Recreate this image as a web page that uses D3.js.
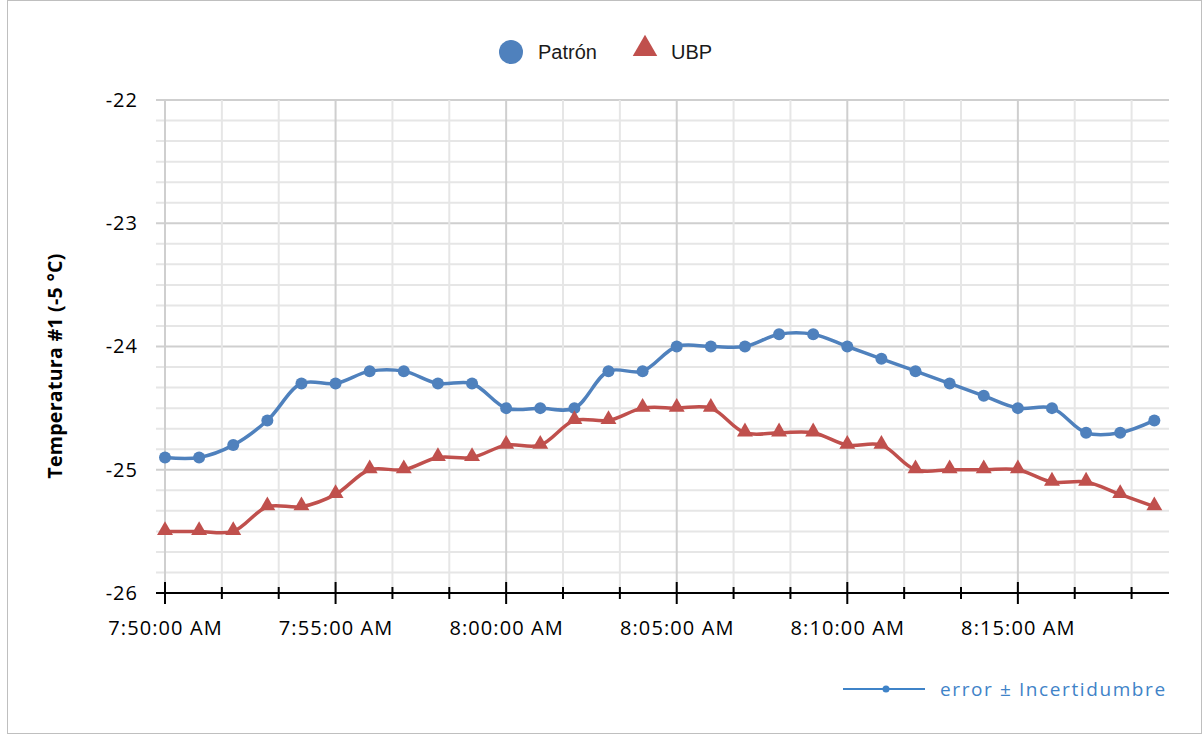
<!DOCTYPE html>
<html>
<head>
<meta charset="utf-8">
<script src="https://cdnjs.cloudflare.com/ajax/libs/d3/7.8.5/d3.min.js"></script>
<style>
  body { margin: 0; background: #fff; }
  svg { display: block; }
</style>
</head>
<body>
<svg id="vis"></svg>
<script>
const width = 1203;
const height = 736;

// minute readings, 7:50 .. 8:19
const times = ['7:50', '7:51', '7:52', '7:53', '7:54', '7:55', '7:56', '7:57', '7:58', '7:59',
               '8:00', '8:01', '8:02', '8:03', '8:04', '8:05', '8:06', '8:07', '8:08', '8:09',
               '8:10', '8:11', '8:12', '8:13', '8:14', '8:15', '8:16', '8:17', '8:18', '8:19'];
const patron = [-24.9, -24.9, -24.8, -24.6, -24.3, -24.3, -24.2, -24.2, -24.3, -24.3,
                -24.5, -24.5, -24.5, -24.2, -24.2, -24.0, -24.0, -24.0, -23.9, -23.9,
                -24.0, -24.1, -24.2, -24.3, -24.4, -24.5, -24.5, -24.7, -24.7, -24.6];
const ubp = [-25.5, -25.5, -25.5, -25.3, -25.3, -25.2, -25.0, -25.0, -24.9, -24.9,
             -24.8, -24.8, -24.6, -24.6, -24.5, -24.5, -24.5, -24.7, -24.7, -24.7,
             -24.8, -24.8, -25.0, -25.0, -25.0, -25.0, -25.1, -25.1, -25.2, -25.3];
const xTickLabels = ['7:50', '7:55', '8:00', '8:05', '8:10', '8:15'];
const yTicks = [-26, -25, -24, -23, -22];

const blue = '#4f81bd';
const red = '#c0504d';

const svg = d3.select('#vis')
    .attr('width', width)
    .attr('height', height);

// outer frame
svg.append('rect')
    .attr('x', 7.5).attr('y', 0.5)
    .attr('width', 1194).attr('height', 733)
    .attr('fill', '#fff')
    .attr('stroke', '#bfbfbf');

const parse = d3.timeParse('%H:%M');
const fmt = d3.timeFormat('%-I:%M:%S %p');
const t0 = parse(times[0]);
const tEnd = new Date(+t0 + 29.43 * 60000);

const x = d3.scaleTime().domain([t0, tEnd]).range([165, 1169]);
const y = d3.scaleLinear().domain([-26, -22]).range([593, 100]);

// gridlines: minor every 1/6 unit, vertical every 100 s
const grid = svg.append('g');
const minorY = d3.range(0, 25).map(i => -26 + i / 6).filter(v => Math.abs(v - Math.round(v)) > 1e-6);
grid.selectAll('.hmin').data(minorY).enter().append('line')
    .attr('x1', 156).attr('x2', 1169)
    .attr('y1', d => y(d)).attr('y2', d => y(d))
    .attr('stroke', '#e6e6e6').attr('stroke-width', 2);
grid.selectAll('.hmaj').data(yTicks.filter(d => d > -26)).enter().append('line')
    .attr('x1', 156).attr('x2', 1169)
    .attr('y1', d => y(d)).attr('y2', d => y(d))
    .attr('stroke', '#cfcfcf').attr('stroke-width', 2);

const vTicks = d3.range(0, 18).map(i => new Date(+t0 + i * 100000));
grid.selectAll('.v').data(vTicks).enter().append('line')
    .attr('x1', d => x(d)).attr('x2', d => x(d))
    .attr('y1', 100).attr('y2', 593)
    .attr('stroke', (d, i) => i % 3 === 0 ? '#cfcfcf' : '#e6e6e6')
    .attr('stroke-width', 2);

// x axis line with major and minor ticks
svg.append('line')
    .attr('x1', 156).attr('x2', 1169).attr('y1', 593).attr('y2', 593)
    .attr('stroke', '#000').attr('stroke-width', 2);
svg.append('g').selectAll('line').data(vTicks).enter().append('line')
    .attr('x1', d => x(d)).attr('x2', d => x(d))
    .attr('y1', (d, i) => i % 3 === 0 ? 582 : 587)
    .attr('y2', (d, i) => i % 3 === 0 ? 604 : 599)
    .attr('stroke', '#000').attr('stroke-width', 2);

const xAxis = d3.axisBottom(x)
    .tickValues(xTickLabels.map(parse))
    .tickFormat(fmt)
    .tickSize(0)
    .tickPadding(28);
svg.append('g').attr('transform', 'translate(0,593)').call(xAxis)
    .call(g => g.select('.domain').remove())
    .selectAll('text')
    .attr('font-family', 'Open Sans, sans-serif')
    .attr('font-size', 20)
    .attr('letter-spacing', 1.1)
    .attr('fill', '#000');

const yAxis = d3.axisLeft(y).tickValues(yTicks).tickFormat(d => String(d)).tickSize(0).tickPadding(18);
svg.append('g').attr('transform', 'translate(156,0)').call(yAxis)
    .call(g => g.select('.domain').remove())
    .selectAll('text')
    .attr('font-family', 'Open Sans, sans-serif')
    .attr('font-size', 20)
    .attr('letter-spacing', 1)
    .attr('fill', '#000');

svg.append('text')
    .attr('transform', 'translate(62,366) rotate(-90)')
    .attr('text-anchor', 'middle')
    .attr('font-family', 'Open Sans, sans-serif')
    .attr('font-weight', 'bold')
    .attr('font-size', 19.5)
    .attr('letter-spacing', 0.3)
    .text('Temperatura #1 (-5 °C)');

// series
const line = d3.line()
    .x((d, i) => x(parse(times[i])))
    .y(d => y(d))
    .curve(d3.curveCatmullRom.alpha(0.5));

svg.append('path').datum(patron)
    .attr('d', line).attr('fill', 'none')
    .attr('stroke', blue).attr('stroke-width', 3.5);
svg.append('path').datum(ubp)
    .attr('d', line).attr('fill', 'none')
    .attr('stroke', red).attr('stroke-width', 3.5);

svg.append('g').selectAll('circle').data(patron).enter().append('circle')
    .attr('cx', (d, i) => x(parse(times[i])))
    .attr('cy', d => y(d))
    .attr('r', 6)
    .attr('fill', blue);

const tri = d3.symbol().type(d3.symbolTriangle).size(110);
svg.append('g').selectAll('path').data(ubp).enter().append('path')
    .attr('d', tri)
    .attr('transform', (d, i) => `translate(${x(parse(times[i]))},${y(d) - 1})`)
    .attr('fill', red);

// top legend
const legend = svg.append('g').attr('font-family', 'Liberation Sans, Arial, sans-serif').attr('font-size', 20);
legend.append('circle').attr('cx', 511).attr('cy', 52).attr('r', 12).attr('fill', blue);
legend.append('text').attr('x', 538).attr('y', 59).text('Patrón').attr('fill', '#1a1a1a');
legend.append('path').attr('d', d3.symbol().type(d3.symbolTriangle).size(260))
    .attr('transform', 'translate(645,49)').attr('fill', red);
legend.append('text').attr('x', 671).attr('y', 59).text('UBP').attr('fill', '#1a1a1a');

// bottom-right note
const note = svg.append('g');
note.append('line').attr('x1', 843).attr('x2', 925).attr('y1', 689).attr('y2', 689)
    .attr('stroke', '#3f83c8').attr('stroke-width', 2);
note.append('circle').attr('cx', 886).attr('cy', 689).attr('r', 3.5).attr('fill', '#3f83c8');
note.append('text').attr('x', 940).attr('y', 696)
    .attr('font-family', 'Open Sans, sans-serif')
    .attr('font-size', 19)
    .attr('letter-spacing', 1.6)
    .attr('fill', '#3f83c8')
    .text('error ± Incertidumbre');
</script>
</body>
</html>
